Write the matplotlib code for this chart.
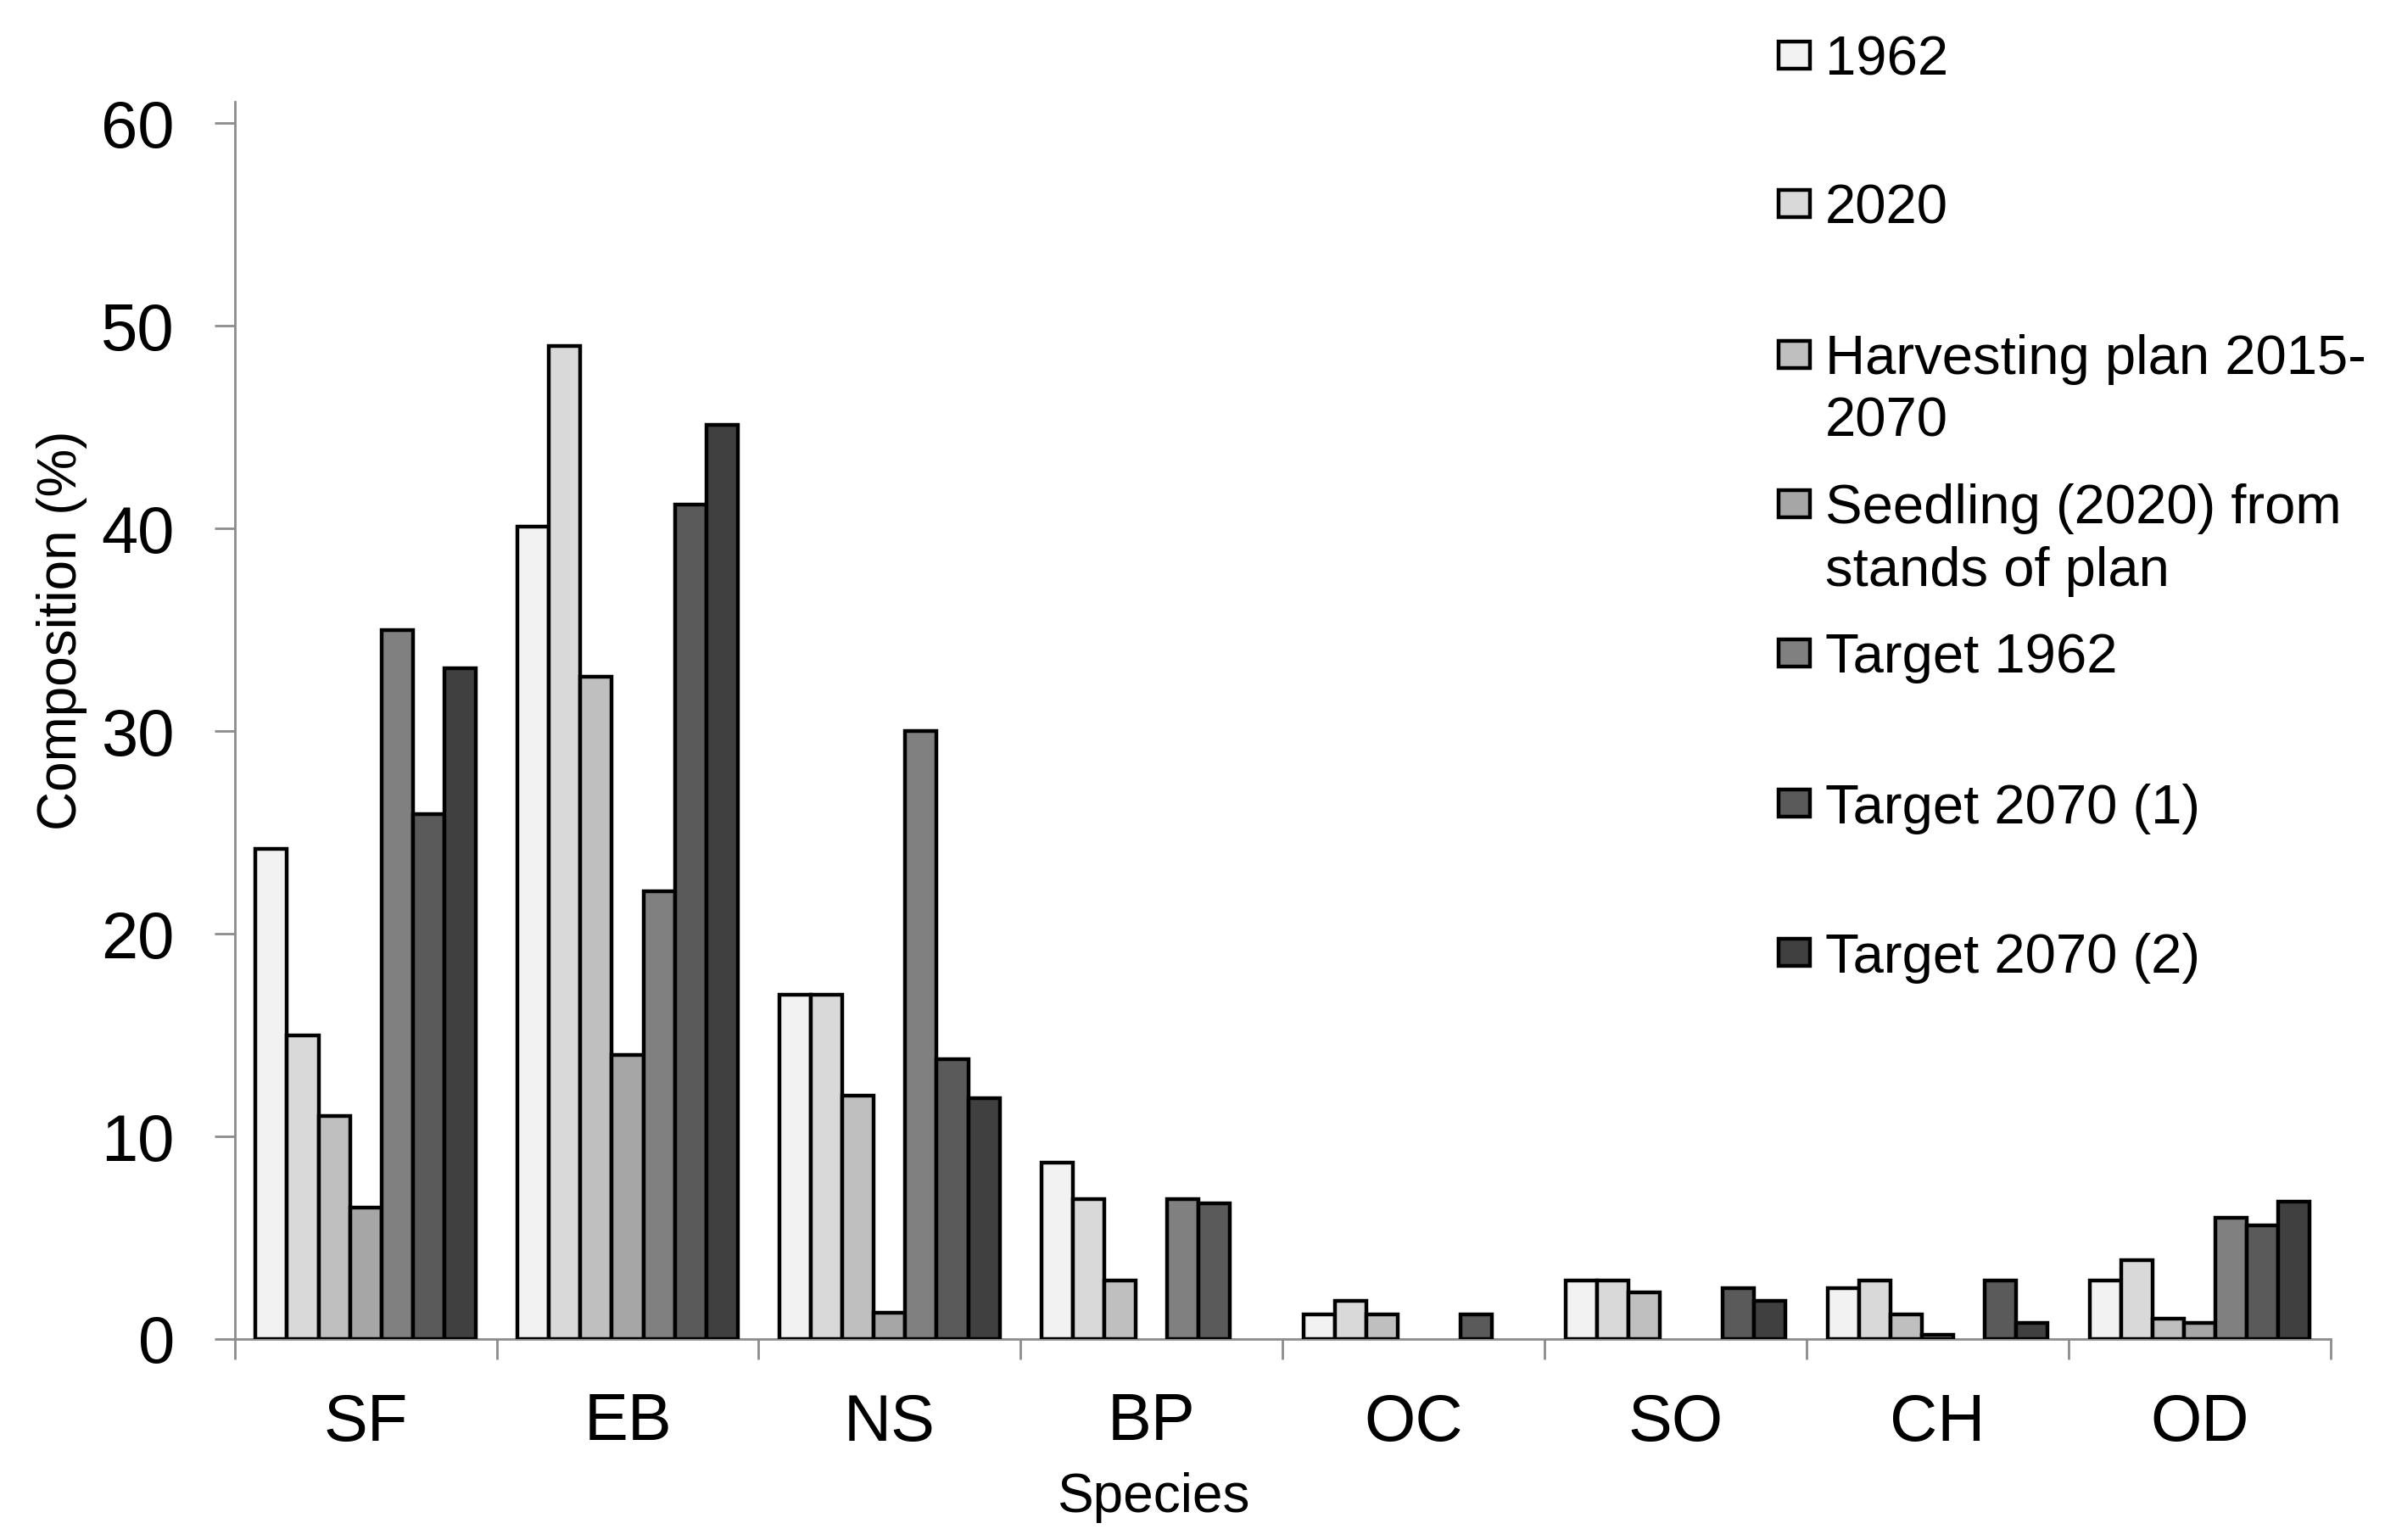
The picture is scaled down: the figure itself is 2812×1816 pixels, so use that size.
import matplotlib
matplotlib.use("Agg")
import matplotlib.pyplot as plt
from matplotlib.patches import Rectangle
import numpy as np

plt.rcParams['font.family'] = ['Liberation Sans', 'DejaVu Sans']

species = ['SF', 'EB', 'NS', 'BP', 'OC', 'SO', 'CH', 'OD']

y1962 = [24.2, 40.1, 17.0, 8.7, 1.2, 2.9, 2.5, 2.9]
y2020 = [15.0, 49.0, 17.0, 6.9, 1.9, 2.9, 2.9, 3.9]
harvest_plan = [11.0, 32.7, 12.0, 2.9, 1.2, 2.3, 1.2, 1.0]
seedling = [6.5, 14.0, 1.3, 0.0, 0.0, 0.0, 0.2, 0.8]
target_1962 = [35.0, 22.1, 30.0, 6.9, 0.0, 0.0, 0.0, 6.0]
target_2070_1 = [25.9, 41.2, 13.8, 6.7, 1.2, 2.5, 2.9, 5.6]
target_2070_2 = [33.1, 45.1, 11.9, 0.0, 0.0, 1.9, 0.8, 6.8]

series = [y1962, y2020, harvest_plan, seedling,
          target_1962, target_2070_1, target_2070_2]
labels = ['1962', '2020', 'Harvesting plan 2015-\n2070',
          'Seedling (2020) from\nstands of plan', 'Target 1962',
          'Target 2070 (1)', 'Target 2070 (2)']
colors = ['#f2f2f2', '#d9d9d9', '#bfbfbf', '#a6a6a6',
          '#808080', '#5a5a5a', '#404040']

W, H = 2812, 1816
fig = plt.figure(figsize=(W / 100, H / 100), dpi=100, facecolor='white')
ax = fig.add_axes([276.7 / W, 1 - 1579 / H, (2747.7 - 276.7) / W, (1579 - 120) / H])

x = np.arange(len(species)) + 0.5
bw = 0.12
for k, (vals, col) in enumerate(zip(series, colors)):
    vals = np.asarray(vals)
    keep = vals > 0  # empty cells have no bar at all
    ax.bar(x[keep] + (k - 3) * bw, vals[keep], width=bw, color=col,
           edgecolor='black', linewidth=3.2, zorder=3)

ax.set_xlim(0, len(species))
ax.set_ylim(0, 61.06)
ax.set_yticks(range(0, 61, 10))
ax.set_xticks(x)
ax.set_xticklabels(species)
ax.set_xticks(np.arange(len(species) + 1), minor=True)

for s in ['top', 'right']:
    ax.spines[s].set_visible(False)
for s in ['left', 'bottom']:
    ax.spines[s].set_color('#8c8c8c')
    ax.spines[s].set_linewidth(2)

ax.tick_params(axis='y', direction='out', length=17, width=2, color='#8c8c8c',
               labelsize=56, pad=34)
ax.tick_params(axis='x', which='major', length=0, labelsize=56, pad=45)
ax.tick_params(axis='x', which='minor', direction='out', length=17, width=2,
               color='#8c8c8c')

ax.text(0.4384, (1579 - 1783) / (1579 - 120), 'Species', transform=ax.transAxes,
        ha='center', va='baseline', fontsize=46)
fig.text(90 / W, 1 - 743 / H, 'Composition (%)', rotation=90,
         rotation_mode='anchor', ha='center', va='baseline', fontsize=46)

# legend drawn by hand: one slot per series, extra lines hang below
centers = [65, 240, 418, 594, 770, 947, 1123]
for lab, col, cy in zip(labels, colors, centers):
    fig.patches.append(Rectangle((2097 / W, 1 - (cy + 16) / H), 37 / W, 32 / H,
                                 transform=fig.transFigure, facecolor=col,
                                 edgecolor='black', linewidth=3.2))
    for j, line in enumerate(lab.split('\n')):
        fig.text(2152 / W, 1 - (cy + 23.5 + j * 73) / H, line,
                 ha='left', va='baseline', fontsize=47)

fig.savefig('out.png', dpi=100, facecolor='white')
